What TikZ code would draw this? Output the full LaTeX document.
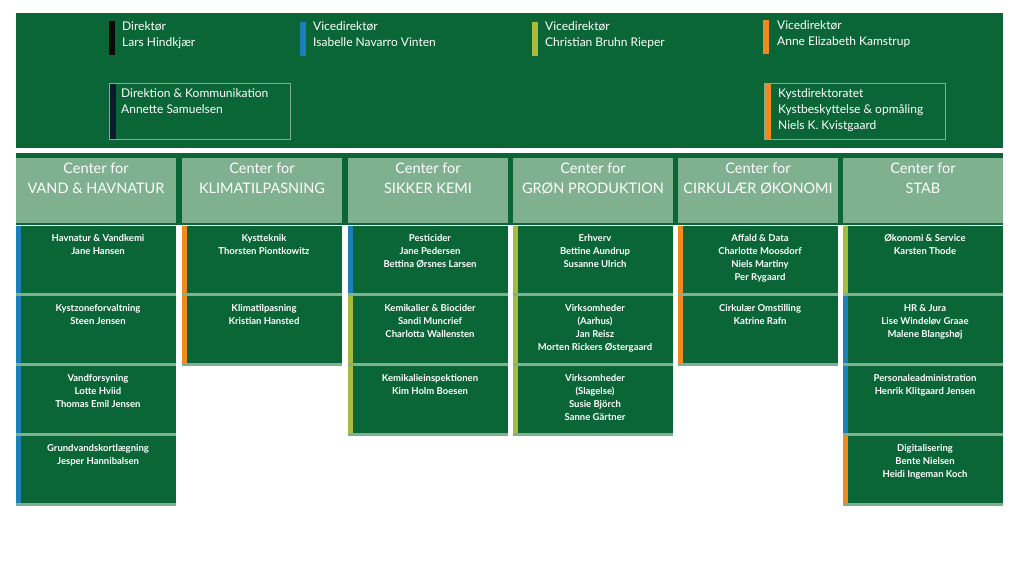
\documentclass[tikz,border=0pt]{standalone}
\usepackage{fontspec}
\setmainfont{Lato}
\definecolor{dg}{HTML}{0B6637}
\definecolor{lg}{HTML}{7FB08F}
\definecolor{cb}{HTML}{1B80B8}
\definecolor{co}{HTML}{F08A1E}
\definecolor{cl}{HTML}{A9BB3C}
\definecolor{ck}{HTML}{0A0A0A}
\definecolor{cn}{HTML}{0B1A2E}
\begin{document}
\begin{tikzpicture}[x=1pt,y=-1pt,
  top/.style={anchor=north west,align=left,text=white,font=\fontsize{12}{16}\selectfont,inner sep=0pt},
  hdr/.style={anchor=north,align=center,text=white,font=\fontsize{14.5}{20}\selectfont,inner sep=0pt},
  cell/.style={anchor=north,align=center,text=white,font=\fontsize{9.5}{13}\selectfont\bfseries,inner sep=0pt}]
\useasboundingbox (0,0) rectangle (1024,576);
\fill[white] (0,0) rectangle (1024,576);
\fill[dg] (16,13) rectangle (1003,148);
\fill[dg] (16,153) rectangle (1003,225);
% top people
\newcommand\mybar[3]{\fill[#1] (#2,#3) rectangle ++(6,34);}
\mybar{ck}{109}{21}\node[top] (dir) at (122,21) {Direktør\\Lars Hindkjær};
\mybar{cb}{300}{22}\node[top] (vd1) at (313,21) {Vicedirektør\\Isabelle Navarro Vinten};
\mybar{cl}{532}{22}\node[top] (vd2) at (545,21) {Vicedirektør\\Christian Bruhn Rieper};
\mybar{co}{763}{20}\node[top] (vd3) at (777,20) {Vicedirektør\\Anne Elizabeth Kamstrup};
\draw[lg,line width=0.8] (109.5,83.5) rectangle (290,139);
\fill[cn] (110,84) rectangle (116,138.5);
\node[top] (dk) at (121,88) {Direktion \& Kommunikation\\Annette Samuelsen};
\draw[lg,line width=0.8] (764.5,83.5) rectangle (945,139);
\fill[co] (765,84) rectangle (771,138.5);
\node[top] (kd) at (778,88) {Kystdirektoratet\\Kystbeskyttelse \& opmåling\\Niels K. Kvistgaard};
% headers
\newcommand\myhdr[3]{\fill[lg] (#1,158) rectangle ++(160,65);
  \node[hdr] (#2) at (#1+80,163) {#3};}
\myhdr{16}{h1}{Center for\\VAND \& HAVNATUR}
\myhdr{182}{h2}{Center for\\KLIMATILPASNING}
\myhdr{348}{h3}{Center for\\SIKKER KEMI}
\myhdr{513}{h4}{Center for\\GRØN PRODUKTION}
\myhdr{678}{h5}{Center for\\CIRKULÆR ØKONOMI}
\myhdr{843}{h6}{Center for\\STAB}
% cells: x, row y, color, name, text
\newcommand\mycell[5]{\fill[dg] (#1,#2) rectangle ++(160,67);
  \fill[lg] (#1,#2+67) rectangle ++(160,3);
  \fill[#3] (#1,#2) rectangle ++(5,67);
  \node[cell] (#4) at (#1+82,#2+8) {#5};}
\mycell{16}{226}{cb}{a1}{Havnatur \& Vandkemi\\Jane Hansen}
\mycell{16}{296}{cb}{a2}{Kystzoneforvaltning\\Steen Jensen}
\mycell{16}{366}{cb}{a3}{Vandforsyning\\Lotte Hviid\\Thomas Emil Jensen}
\mycell{16}{436}{cb}{a4}{Grundvandskortlægning\\Jesper Hannibalsen}
\mycell{182}{226}{co}{b1}{Kystteknik\\Thorsten Piontkowitz}
\mycell{182}{296}{co}{b2}{Klimatilpasning\\Kristian Hansted}
\mycell{348}{226}{cb}{c1}{Pesticider\\Jane Pedersen\\Bettina Ørsnes Larsen}
\mycell{348}{296}{cl}{c2}{Kemikalier \& Biocider\\Sandi Muncrief\\Charlotta Wallensten}
\mycell{348}{366}{cl}{c3}{Kemikalieinspektionen\\Kim Holm Boesen}
\mycell{513}{226}{cl}{d1}{Erhverv\\Bettine Aundrup\\Susanne Ulrich}
\mycell{513}{296}{cl}{d2}{Virksomheder\\(Aarhus)\\Jan Reisz\\Morten Rickers Østergaard}
\mycell{513}{366}{cl}{d3}{Virksomheder\\(Slagelse)\\Susie Björch\\Sanne Gärtner}
\mycell{678}{226}{co}{e1}{Affald \& Data\\Charlotte Moosdorf\\Niels Martiny\\Per Rygaard}
\mycell{678}{296}{co}{e2}{Cirkulær Omstilling\\Katrine Rafn}
\mycell{843}{226}{cl}{f1}{Økonomi \& Service\\Karsten Thode}
\mycell{843}{296}{cb}{f2}{HR \& Jura\\Lise Windeløv Graae\\Malene Blangshøj}
\mycell{843}{366}{cb}{f3}{Personaleadministration\\Henrik Klitgaard Jensen}
\mycell{843}{436}{co}{f4}{Digitalisering\\Bente Nielsen\\Heidi Ingeman Koch}
\end{tikzpicture}
\end{document}
